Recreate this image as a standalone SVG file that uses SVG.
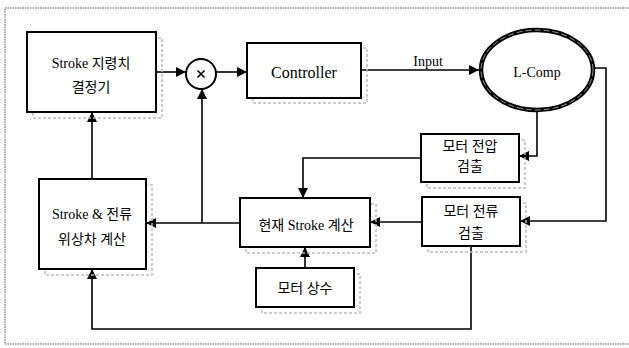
<svg xmlns="http://www.w3.org/2000/svg" width="629" height="348" viewBox="0 0 629 348">
<defs>
<marker id="ah" markerUnits="userSpaceOnUse" markerWidth="11" markerHeight="10" refX="10" refY="5" orient="auto">
<path d="M0,0 L10,5 L0,10 Z" fill="#000"/>
</marker>
</defs>
<style>
.box{fill:#fff;stroke:#000;stroke-width:2}
.sh{fill:none;stroke:#bbb;stroke-width:1.5;stroke-dasharray:3 2}
.frame{fill:none;stroke:#555;stroke-width:1;stroke-dasharray:1.5 1}
.c{fill:none;stroke:#000;stroke-width:1.6}
.a{marker-end:url(#ah)}
text{font-family:"Liberation Serif","Noto Sans CJK KR",serif;font-size:14px;fill:#000;text-anchor:middle}
.big{font-size:16px}
</style>
<rect width="629" height="348" fill="#fff"/>
<path class="frame" d="M629,8 H5 V344 H629"/>

<g id="connectors">
<path class="c a" d="M156,72 H186"/>
<path class="c a" d="M216,72 H247"/>
<path class="c a" d="M361,70 H479"/>
<path class="c a" d="M595,68 H606 V221 H520"/>
<path class="c a" d="M537,112 V156 H519"/>
<path class="c a" d="M421,158 H303 V198"/>
<path class="c a" d="M422,222 H370"/>
<path class="c a" d="M305,268 V247"/>
<path class="c a" d="M240,223 H146"/>
<path class="c a" d="M202,223 V89"/>
<path class="c a" d="M92,179 V112"/>
<path class="c a" d="M471,246 V329 H92 V269"/>
<text x="428" y="66">Input</text>
</g>

<g id="stroke-cmd">
<rect class="sh" x="33" y="38" width="129" height="80"/>
<rect class="box" x="27" y="32" width="129" height="80"/>
<text x="91" y="68">Stroke 지령치</text>
<text x="91" y="92">결정기</text>
</g>

<g id="multiplier">
<circle cx="201" cy="74" r="15" fill="#fff" stroke="#000" stroke-width="2"/>
<path d="M197.5,70.5 L204.5,77.5 M204.5,70.5 L197.5,77.5" stroke="#000" stroke-width="1.6"/>
</g>

<g id="controller">
<rect class="sh" x="253" y="48" width="114" height="55"/>
<rect class="box" x="247" y="43" width="114" height="55"/>
<text class="big" x="304" y="78">Controller</text>
</g>

<g id="lcomp">
<ellipse cx="537" cy="70" rx="56" ry="40" fill="#fff" stroke="#000" stroke-width="4.5"/>
<ellipse cx="537" cy="70" rx="56" ry="40" fill="none" stroke="#fff" stroke-width="0.6" stroke-dasharray="6 3"/>
<text x="537" y="77">L-Comp</text>
</g>

<g id="motor-voltage">
<rect class="sh" x="427" y="140" width="98" height="48"/>
<rect class="box" x="421" y="134" width="98" height="48"/>
<text x="470" y="151">모터 전압</text>
<text x="470" y="171">검출</text>
</g>

<g id="motor-current">
<rect class="sh" x="428" y="203" width="98" height="49"/>
<rect class="box" x="422" y="197" width="98" height="49"/>
<text x="471" y="216">모터 전류</text>
<text x="471" y="238">검출</text>
</g>

<g id="current-stroke">
<rect class="sh" x="246" y="204" width="130" height="49"/>
<rect class="box" x="240" y="198" width="130" height="49"/>
<text x="306" y="230">현재 Stroke 계산</text>
</g>

<g id="motor-const">
<rect class="sh" x="262" y="274" width="98" height="39"/>
<rect class="box" x="256" y="268" width="98" height="39"/>
<text x="305" y="293">모터 상수</text>
</g>

<g id="phase-calc">
<rect class="sh" x="45" y="185" width="107" height="90"/>
<rect class="box" x="39" y="179" width="107" height="90"/>
<text x="92" y="219">Stroke &amp; 전류</text>
<text x="92" y="244">위상차 계산</text>
</g>
</svg>
